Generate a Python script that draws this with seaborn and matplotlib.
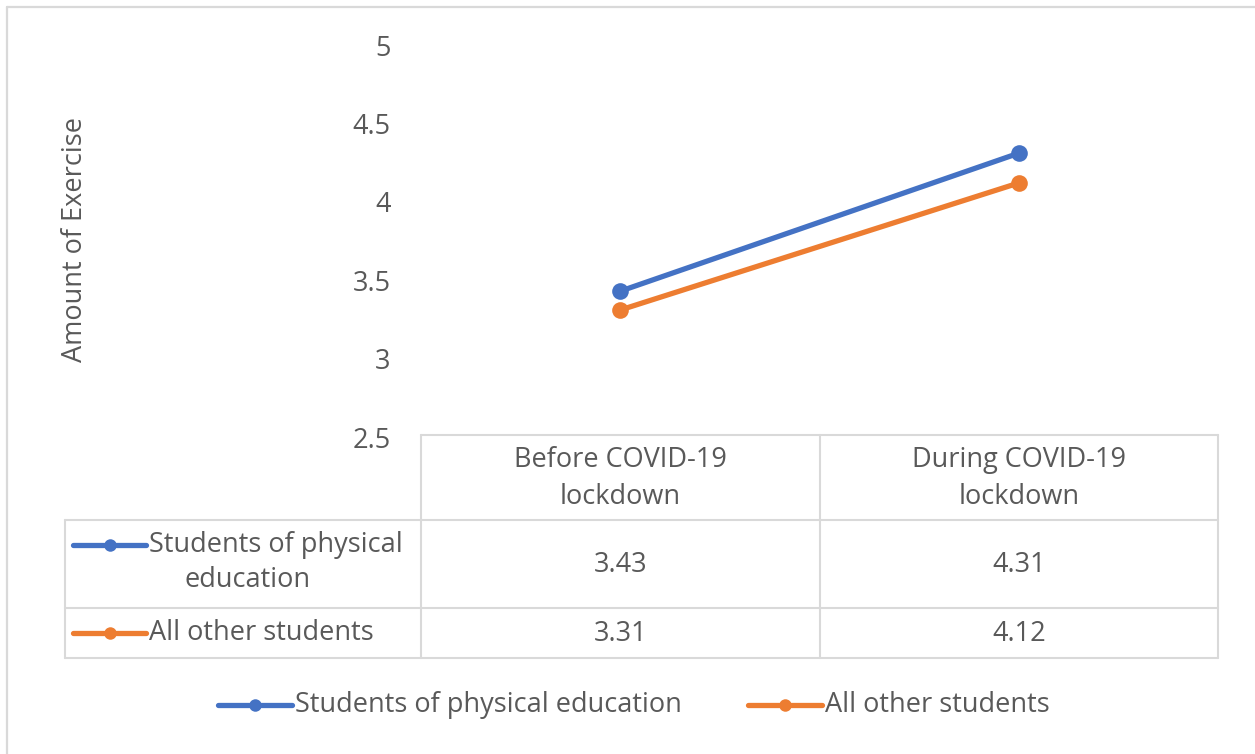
import matplotlib
matplotlib.use("Agg")
import matplotlib.pyplot as plt
import seaborn as sns
import pandas as pd

# Chart data
periods = ["Before COVID-19\nlockdown", "During COVID-19\nlockdown"]
series_names = ["Students of physical\neducation", "All other students"]
legend_names = ["Students of physical education", "All other students"]
phys_ed = [3.43, 4.31]
others = [3.31, 4.12]
y_ticks = [2.5, 3, 3.5, 4, 4.5, 5]
colors = ["#4472C4", "#ED7D31"]

sns.set_theme(style="white")
plt.rcParams["font.family"] = ["Open Sans", "DejaVu Sans"]
text_color = "#595959"
grid_color = "#D9D9D9"
fs = 19.5

W, H = 1255, 754
fig = plt.figure(figsize=(W / 100, H / 100), dpi=100)


def fx(px):
    return px / W


def fy(py):
    return 1 - py / H


# Plot area spans the two table columns
left, right, top, bottom = 421, 1218, 45, 437
ax = fig.add_axes([fx(left), fy(bottom), fx(right - left), fy(top) - fy(bottom)])

df = pd.DataFrame({
    "period": list(range(len(periods))) * 2,
    "value": phys_ed + others,
    "series": [legend_names[0]] * 2 + [legend_names[1]] * 2,
})
sns.lineplot(data=df, x="period", y="value", hue="series", palette=colors,
             marker="o", markersize=12, markeredgewidth=0, linewidth=3.8,
             legend=False, ax=ax)

ax.set_xlim(-0.5, len(periods) - 0.5)
ax.set_ylim(y_ticks[0], y_ticks[-1])
ax.set_yticks(y_ticks)
ax.set_yticklabels([f"{t:g}" for t in y_ticks], fontsize=fs, color=text_color)
ax.tick_params(axis="y", length=0, pad=22)
ax.set_xticks([])
ax.set_xlabel("")
ax.set_ylabel("")
for s in ax.spines.values():
    s.set_visible(False)
ax.patch.set_alpha(0)

fig.text(fx(75), fy(240), "Amount of Exercise", rotation=90, ha="center",
         va="center", fontsize=fs, color=text_color)

# Overlay for the data table, legend and chart border (pixel coordinates)
ov = fig.add_axes([0, 0, 1, 1], zorder=-1)
ov.set_xlim(0, W)
ov.set_ylim(H, 0)
ov.axis("off")

# Chart area border
ov.plot([7, 7], [H, 7], color=grid_color, lw=1.6)
ov.plot([7, W], [7, 7], color=grid_color, lw=1.6)

tbl_left, col1, col2, col3 = 65, 421, 820, 1218
r0, r1, r2, r3 = 435, 520, 608, 658
lw_grid = 1.5
ov.plot([col1, col3], [r0, r0], color=grid_color, lw=lw_grid)
for x in (col1, col2, col3):
    ov.plot([x, x], [r0, r3], color=grid_color, lw=lw_grid)
for y in (r1, r2, r3):
    ov.plot([tbl_left, col3], [y, y], color=grid_color, lw=lw_grid)
ov.plot([tbl_left, tbl_left], [r1, r3], color=grid_color, lw=lw_grid)

centers = [(col1 + col2) / 2, (col2 + col3) / 2]
for cx, lab in zip(centers, periods):
    ov.text(cx, (r0 + r1) / 2 + 1, lab, ha="center", va="center",
            fontsize=fs, color=text_color, linespacing=1.45)

rows = [(r1, r2), (r2, r3)]
for (ya, yb), name, vals, c in zip(rows, series_names, [phys_ed, others], colors):
    yc = (ya + yb) / 2
    ly = ya + 25 if "\n" in name else yc
    ov.plot([73, 146], [ly, ly], color=c, lw=3.8, solid_capstyle="round")
    ov.plot([110], [ly], marker="o", color=c, markersize=9, markeredgewidth=0)
    first, *rest = name.split("\n")
    ov.text(149, ly, first, ha="left", va="center", fontsize=fs, color=text_color)
    if rest:
        ov.text(248, ly + 35, rest[0], ha="center", va="center",
                fontsize=fs, color=text_color)
    for cx, v in zip(centers, vals):
        ov.text(cx, yc + 1, f"{v:.2f}", ha="center", va="center",
                fontsize=fs, color=text_color)

# Legend below the table
leg_items = [(218, legend_names[0], colors[0]), (748, legend_names[1], colors[1])]
ly = 705
for x0, name, c in leg_items:
    ov.plot([x0, x0 + 74], [ly, ly], color=c, lw=3.8, solid_capstyle="round")
    ov.plot([x0 + 37], [ly], marker="o", color=c, markersize=9, markeredgewidth=0)
    ov.text(x0 + 77, ly, name, ha="left", va="center", fontsize=fs, color=text_color)

fig.savefig("out.png", dpi=100, facecolor="white")
